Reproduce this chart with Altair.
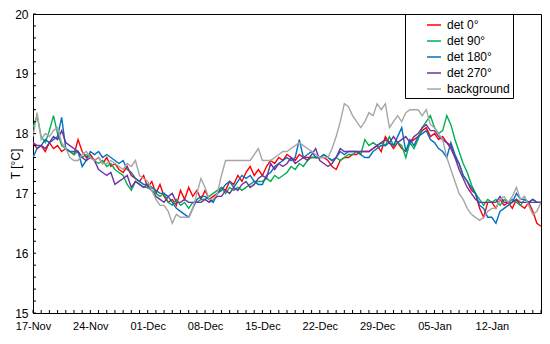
import altair as alt
import pandas as pd

START = "2019-11-17"
N_DAYS = 62  # x domain: 17-Nov .. 18-Jan

series_names = ["det 0°", "det 90°", "det 180°", "det 270°", "background"]
series_colors = ["#FF0000", "#00B050", "#0070C0", "#7030A0", "#A6A6A6"]

# half-day samples, 125 values each (day 0 .. day 62)
det0 = [
    17.85, 17.75, 17.8, 17.7, 17.85, 17.75, 17.8, 17.7, 17.75, 17.7, 17.65, 17.9, 17.7, 17.6,
    17.65, 17.55, 17.6, 17.5, 17.6, 17.45, 17.5, 17.4, 17.35, 17.45, 17.3, 17.25, 17.2, 17.3,
    17.1, 17.2, 17.0, 17.15, 16.95, 16.85, 16.9, 16.8, 17.05, 16.9, 17.1, 16.95, 17.05, 16.9,
    17.05, 16.9, 16.95, 17.0, 17.1, 17.05, 17.2, 17.15, 17.3, 17.2, 17.35, 17.45, 17.3, 17.4,
    17.3, 17.45, 17.55, 17.5, 17.6, 17.55, 17.65, 17.6, 17.55, 17.65, 17.6, 17.6, 17.6, 17.6,
    17.6, 17.6, 17.55, 17.45, 17.4, 17.55, 17.6, 17.6, 17.65, 17.65, 17.7, 17.7, 17.7, 17.75,
    17.8, 17.7, 17.95, 17.85, 17.75, 17.85, 17.75, 17.7, 17.85, 17.9, 17.95, 18.05, 18.1, 17.95,
    18.0, 17.9, 17.95, 17.85, 17.8, 17.6, 17.5, 17.3, 17.2, 17.05, 17.0, 16.75, 16.6, 16.85,
    16.85, 16.75, 16.9, 16.8, 16.85, 16.75, 16.9, 16.8, 16.75, 16.85, 16.7, 16.5, 16.45,
]
det90 = [
    18.1, 18.3, 17.95, 17.85, 18.05, 18.3, 18.0, 17.8, 17.75, 17.7, 17.65, 17.7, 17.6, 17.65,
    17.6, 17.55, 17.5, 17.55, 17.45, 17.5, 17.4, 17.35, 17.3, 17.15, 17.05, 17.2, 17.15, 17.1,
    17.1, 17.05, 17.0, 16.95, 17.0, 16.85, 16.8, 16.9, 16.8, 16.85, 16.75, 16.85, 16.85, 16.9,
    16.9, 16.95, 17.0, 17.05, 17.1, 17.0, 17.1, 17.05, 17.1, 17.05, 17.1, 17.15, 17.2, 17.2,
    17.2, 17.25, 17.2, 17.3, 17.25, 17.3, 17.35, 17.45, 17.4, 17.5, 17.45, 17.55, 17.6, 17.6,
    17.6, 17.65, 17.6, 17.55, 17.6, 17.55, 17.6, 17.65, 17.65, 17.7, 17.65, 17.9, 17.8, 17.85,
    17.8, 17.85, 17.8, 17.95, 17.8, 17.85, 17.8, 17.6, 17.85, 17.75, 17.9, 18.1, 18.2, 18.3,
    18.1, 18.0, 18.05, 18.3, 18.15, 17.9, 17.7, 17.5, 17.35, 17.15, 17.0, 16.9, 16.8, 16.9,
    16.85, 16.9, 16.8, 16.9, 16.85, 16.9, 16.85, 16.8, 16.9, 16.85, 16.9, 16.85, 16.85,
]
det180 = [
    17.6, 17.75, 17.8, 17.9, 17.85, 17.9, 17.95, 18.27, 17.75, 17.7, 17.7, 17.7, 17.45, 17.55,
    17.7, 17.65, 17.7, 17.6, 17.65, 17.6, 17.55, 17.5, 17.55, 17.4, 17.35, 17.25, 17.2, 17.15,
    17.15, 17.1, 17.05, 17.0, 17.0, 16.95, 16.85, 16.75, 16.7, 16.65, 16.6, 16.75, 16.9, 16.95,
    16.95, 16.9, 16.85, 17.0, 17.05, 17.15, 17.2, 17.1, 17.2, 17.3, 17.25, 17.3, 17.2, 17.15,
    17.15, 17.3, 17.35, 17.45, 17.5, 17.55, 17.6, 17.55, 17.6, 17.9, 17.6, 17.65, 17.7, 17.6,
    17.6, 17.65, 17.6, 17.55, 17.6, 17.7, 17.65, 17.7, 17.7, 17.7, 17.65, 17.6, 17.6, 17.7,
    17.75, 17.8, 17.8, 17.85, 17.8, 17.95, 18.1, 17.7, 17.9, 17.8, 17.95, 18.0, 18.05, 17.9,
    17.85, 17.75, 17.7, 17.6, 17.85, 17.65, 17.5, 17.3, 17.2, 17.1, 17.0, 16.8, 16.75, 16.6,
    16.6, 16.5, 16.7, 16.75, 16.8, 16.85, 17.0, 16.9, 16.9, 16.85, 16.85, 16.85, 16.85,
]
det270 = [
    17.85, 17.8, 17.8, 17.75, 17.85, 17.95, 17.9, 18.05, 17.85, 17.8, 17.75, 17.7, 17.6, 17.55,
    17.6, 17.55, 17.4, 17.35, 17.3, 17.35, 17.15, 17.2, 17.25, 17.3, 17.1, 17.2, 17.15, 17.1,
    17.15, 17.05, 16.95, 16.9, 16.85, 16.95, 17.0, 16.85, 16.85, 16.9, 16.85, 16.85, 16.85, 16.85,
    16.9, 16.85, 16.9, 16.95, 16.95, 17.05, 17.0, 17.1, 17.05, 17.15, 17.2, 17.1, 17.15, 17.25,
    17.3, 17.25, 17.5, 17.4, 17.5, 17.45, 17.5, 17.6, 17.5, 17.55, 17.6, 17.55, 17.65, 17.75,
    17.55, 17.5, 17.45, 17.5, 17.6, 17.75, 17.7, 17.7, 17.7, 17.7, 17.7, 17.7, 17.7, 17.75,
    17.8, 17.85, 17.9, 17.85, 17.95, 17.85, 17.9, 17.95, 17.85, 17.95, 18.0, 18.1, 18.15, 18.05,
    18.05, 17.95, 17.9, 17.85, 17.75, 17.6, 17.4, 17.25, 17.1, 17.0, 16.9, 16.85, 16.85, 16.85,
    16.85, 16.85, 16.95, 16.85, 16.85, 16.85, 16.9, 16.85, 16.85, 16.85, 16.9, 16.85, 16.85,
]
background = [
    17.95, 18.35, 17.9, 18.0, 17.95, 18.05, 18.1, 17.85, 17.75, 17.6, 17.55, 17.55, 17.65, 17.7,
    17.6, 17.55, 17.6, 17.5, 17.5, 17.55, 17.5, 17.45, 17.4, 17.5, 17.45, 17.55, 17.3, 17.25,
    17.2, 17.05, 16.9, 16.8, 16.8, 16.7, 16.5, 16.65, 16.6, 16.6, 16.6, 16.75, 17.0, 17.25,
    17.1, 16.9, 16.9, 17.0, 17.3, 17.55, 17.55, 17.55, 17.55, 17.55, 17.55, 17.55, 17.65, 17.75,
    17.55, 17.55, 17.55, 17.6, 17.65, 17.7, 17.7, 17.75, 17.8, 17.85, 17.8, 17.75, 17.7, 17.65,
    17.6, 17.6, 17.6, 17.75, 17.95, 18.2, 18.5, 18.45, 18.3, 18.2, 18.1, 18.2, 18.35, 18.3,
    18.5, 18.4, 18.5, 18.1, 18.2, 18.3, 18.2, 18.35, 18.4, 18.4, 18.4, 18.3, 18.4, 18.15,
    18.1, 18.0, 17.9, 17.6, 17.4, 17.2, 17.0, 16.9, 16.75, 16.65, 16.6, 16.55, 16.6, 16.7,
    16.75, 16.75, 16.9, 16.95, 16.85, 16.95, 17.1, 16.9, 16.95, 16.8, 16.65, 16.7, 16.85,
]
all_series = [det0, det90, det180, det270, background]

times = pd.date_range(START, periods=len(det0), freq="12h", tz="UTC")
t_ms = [int(v) for v in (times.asi8 // 10**6)]

rows = []
for k, (name, vals) in enumerate(zip(series_names, all_series)):
    for t, v in zip(t_ms, vals):
        rows.append({"t": t, "T": v, "s": name, "k": k})
df = pd.DataFrame(rows)

# tick positions (daily on x, every 0.2 on y)
x_ticks = [int(v) for v in (pd.date_range(START, periods=N_DAYS + 1, freq="D", tz="UTC").asi8 // 10**6)]
y_ticks = [round(15 + 0.2 * i, 1) for i in range(26)]
t0 = x_ticks[0]
Y_MIN, Y_MAX = 15, 20

FONT = "Liberation Sans"
W, H = 508, 299

x_scale = alt.Scale(type="utc", domain=[x_ticks[0], x_ticks[-1]], nice=False)
y_scale = alt.Scale(domain=[Y_MIN, Y_MAX], nice=False, zero=False)

x_axis = alt.Axis(
    title=None,
    values=x_ticks,
    labelExpr=f"(round((datum.value - {t0}) / 86400000) % 7 == 0) ? utcFormat(datum.value, '%d-%b') : ''",
    labelOverlap=False,
    labelFlush=False,
    ticks=False,
    labelPadding=7,
    labelFontSize=11,
    grid=False,
)
y_axis = alt.Axis(
    title="T [°C]",
    values=y_ticks,
    labelExpr="abs(datum.value - round(datum.value)) < 0.01 ? format(datum.value, 'd') : ''",
    labelOverlap=False,
    labelFlush=False,
    ticks=False,
    labelPadding=5,
    labelFontSize=12,
    titleX=-18,
    titleY=H / 2,
    titleAngle=270,
    titleAlign="center",
    titleBaseline="middle",
    grid=False,
)

lines = alt.Chart(df).mark_line(strokeWidth=1.4, clip=True).encode(
    x=alt.X("t:T", scale=x_scale, axis=x_axis),
    y=alt.Y("T:Q", scale=y_scale, axis=y_axis),
    color=alt.Color(
        "s:N",
        scale=alt.Scale(domain=series_names, range=series_colors),
        legend=alt.Legend(
            title=None,
            orient="none",
            legendX=372,
            legendY=0,
            strokeColor="black",
            fillColor="white",
            padding=3,
            symbolType="stroke",
            symbolSize=196,
            symbolStrokeWidth=1.5,
            symbolOffset=18,
            labelOffset=5,
            labelFontSize=12,
            labelFont=FONT,
            labelColor="black",
            labelExpr="datum.label + '\u00a0\u00a0\u00a0\u00a0\u00a0\u00a0\u00a0'",
            rowPadding=2,
        ),
    ),
    detail="k:O",
)

# inward minor ticks drawn along the bottom and left edges
xtick_df = pd.DataFrame({"t": x_ticks, "y0": [Y_MIN] * len(x_ticks)})
ytick_df = pd.DataFrame({"v": y_ticks, "t0": [t0] * len(y_ticks)})

xticks = alt.Chart(xtick_df).mark_rule(color="black", strokeWidth=1, y2Offset=-3).encode(
    x=alt.X("t:T", scale=x_scale, axis=x_axis),
    y=alt.Y("y0:Q", scale=y_scale, axis=y_axis),
    y2="y0:Q",
)
yticks = alt.Chart(ytick_df).mark_rule(color="black", strokeWidth=1, x2Offset=3).encode(
    x=alt.X("t0:T", scale=x_scale, axis=x_axis),
    x2="t0:T",
    y=alt.Y("v:Q", scale=y_scale, axis=y_axis),
)

chart = alt.layer(lines, xticks, yticks).properties(
    width=W,
    height=H,
    padding={"left": 25, "top": 6, "right": 1, "bottom": 23},
    autosize="none",
).configure_view(
    stroke="black", strokeWidth=1
).configure_axis(
    domainColor="black",
    labelColor="black",
    titleColor="black",
    labelFont=FONT,
    titleFont=FONT,
    titleFontSize=12,
    titleFontWeight="normal",
)

chart.save("out.html", embed_options={"renderer": "svg", "actions": False})
